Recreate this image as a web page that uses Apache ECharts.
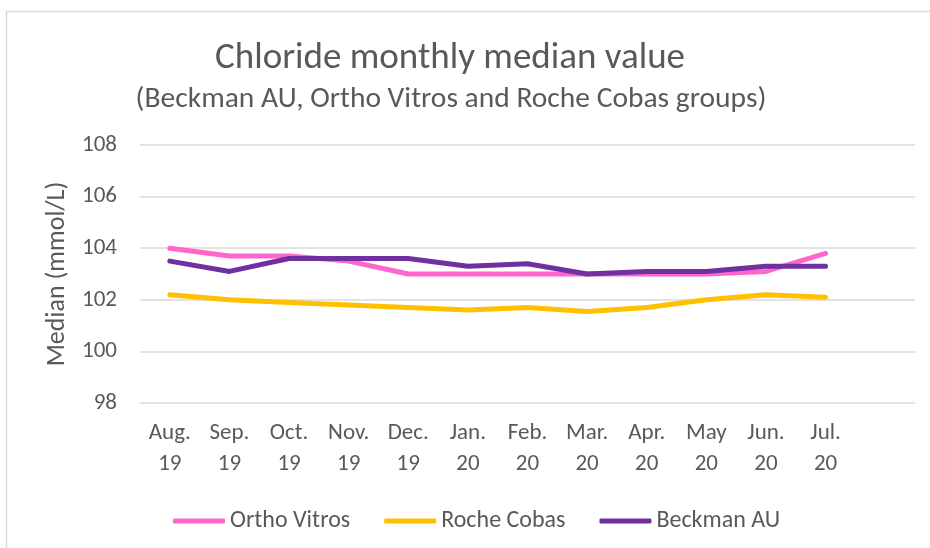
<!DOCTYPE html>
<html>
<head>
<meta charset="utf-8">
<script src="https://cdn.jsdelivr.net/npm/echarts@6/dist/echarts.min.js"></script>
<style>html,body{margin:0;padding:0;background:#fff}#c{width:930px;height:548px}</style>
</head>
<body>
<div id="c"></div>
<script>
const categories = ['Aug.\n19','Sep.\n19','Oct.\n19','Nov.\n19','Dec.\n19','Jan.\n20','Feb.\n20','Mar.\n20','Apr.\n20','May\n20','Jun.\n20','Jul.\n20',''];
const orthoVitros = [104.0,103.7,103.7,103.5,103.0,103.0,103.0,103.0,103.0,103.0,103.1,103.8];
const rocheCobas = [102.2,102.0,101.9,101.8,101.7,101.6,101.7,101.55,101.7,102.0,102.2,102.1];
const beckmanAU = [103.5,103.1,103.6,103.6,103.6,103.3,103.4,103.0,103.1,103.1,103.3,103.3];
const yTicks = [98,100,102,104,106,108];

const FONT = "Carlito, Calibri, Lato, sans-serif";
const TXT = '#595959';
const chart = echarts.init(document.getElementById('c'), null, {renderer:'canvas'});
function mk(name, data, color){
  return {name, type:'line', data, symbol:'none', smooth:false,
    lineStyle:{width:5, color, cap:'round', join:'round'}, itemStyle:{color}};
}
chart.setOption({
  animation:false,
  textStyle:{fontFamily:FONT},
  graphic:[
    {type:'rect', shape:{x:6.5,y:11.5,width:960,height:600}, style:{fill:'none', stroke:'#d9d9d9', lineWidth:1.5}, silent:true},
    {type:'text', x:450, y:59, style:{text:'Chloride monthly median value', fill:TXT, font:'37px '+FONT, textAlign:'center', textVerticalAlign:'middle'}},
    {type:'text', x:451, y:100, style:{text:'(Beckman AU, Ortho Vitros and Roche Cobas groups)', fill:TXT, font:'29.5px '+FONT, textAlign:'center', textVerticalAlign:'middle'}}
  ],
  grid:{left:140, right:15, top:145, bottom:145, containLabel:false},
  legend:{
    left:168, top:504, itemWidth:52, itemHeight:5, itemGap:34, icon:'roundRect',
    textStyle:{color:TXT, fontSize:24, fontFamily:FONT},
    data:['Ortho Vitros','Roche Cobas','Beckman AU']
  },
  xAxis:{
    type:'category', data:categories, boundaryGap:true,
    axisLine:{show:false}, axisTick:{show:false},
    axisLabel:{color:TXT, fontSize:23, lineHeight:31, margin:15, interval:0, fontFamily:FONT}
  },
  yAxis:{
    type:'value', min:yTicks[0], max:yTicks[yTicks.length-1], interval:2,
    name:'Median (mmol/L)', nameLocation:'middle', nameGap:70,
    nameTextStyle:{color:TXT, fontSize:26, fontFamily:FONT},
    axisLine:{show:false}, axisTick:{show:false},
    axisLabel:{color:TXT, fontSize:23, margin:23, fontFamily:FONT},
    splitLine:{lineStyle:{color:'#d9d9d9', width:1.5}}
  },
  series:[
    mk('Ortho Vitros', orthoVitros, '#FF66CC'),
    mk('Roche Cobas', rocheCobas, '#FFC000'),
    mk('Beckman AU', beckmanAU, '#7030A0')
  ]
});
</script>
</body>
</html>
